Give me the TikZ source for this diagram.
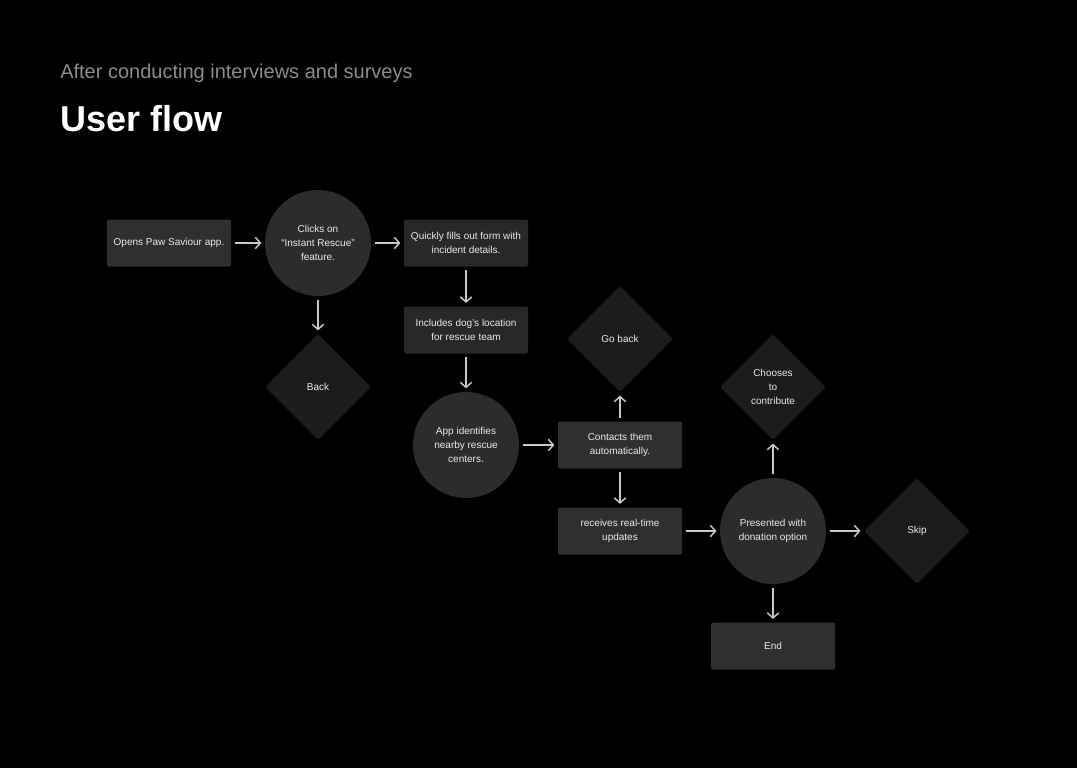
\documentclass[tikz,border=0pt]{standalone}
\usepackage{fontspec}
\setmainfont{Liberation Sans}
\usetikzlibrary{shapes.geometric,arrows.meta}
\definecolor{bg}{HTML}{000000}
\definecolor{boxfill}{HTML}{2F2F2F}
\definecolor{boxfillb}{HTML}{282828}
\definecolor{circfill}{HTML}{2C2C2C}
\definecolor{diafill}{HTML}{1C1C1C}
\definecolor{txt}{HTML}{EAEAEA}
\definecolor{subt}{HTML}{8C8C8C}
\definecolor{arr}{HTML}{C8C8C8}
\tikzset{
  px/.style={x=0.75pt,y=-0.75pt},
  lbl/.style={text=txt,font=\fontsize{7.5pt}{10.5pt}\selectfont,align=center},
  stepbox/.style={lbl,draw=none,fill=boxfill,rounded corners=1.5pt,minimum width=93pt,minimum height=35.25pt,inner sep=0pt},
  stepboxb/.style={stepbox,fill=boxfillb},
  stepcirc/.style={lbl,circle,fill=circfill,minimum size=79.5pt,inner sep=0pt},
  decision/.style={lbl,diamond,fill=diafill,minimum size=79.5pt,inner sep=0pt,aspect=1,rounded corners=1.5pt},
  flow/.style={draw=arr,line width=1.1pt,-{Straight Barb[length=3.8pt,width=8.5pt,line width=1.1pt]},shorten >=2.5pt,shorten <=2.5pt}
}
\begin{document}
\begin{tikzpicture}[px]
\useasboundingbox (0,0) rectangle (1077,768);
\fill[bg] (0,0) rectangle (1077,768);
\node[anchor=base west,inner sep=0pt,text=subt,font=\fontsize{15pt}{18pt}\selectfont] (sub) at (60,78) {After conducting interviews and surveys};
\node[anchor=base west,inner sep=0pt,text=white,font=\fontsize{27pt}{32pt}\selectfont\bfseries] (title) at (60,131) {User flow};

\node[stepbox] (open) at (169,243) {Opens Paw Saviour app.};
\node[stepcirc] (click) at (318,243) {Clicks on\\``Instant Rescue''\\feature.};
\node[stepboxb] (fill) at (466,243) {Quickly fills out form with\\incident details.};
\node[decision] (back) at (318,387) {Back};
\node[stepboxb] (loc) at (466,330) {Includes dog's location\\for rescue team};
\node[stepcirc] (ident) at (466,445) {App identifies\\nearby rescue\\centers.};
\node[stepbox] (contact) at (620,445) {Contacts them\\automatically.};
\node[decision] (goback) at (620,339) {Go back};
\node[stepbox] (upd) at (620,531) {receives real-time\\updates};
\node[stepcirc] (don) at (773,531) {Presented with\\donation option};
\node[decision] (contrib) at (773,387) {Chooses\\to\\contribute};
\node[decision] (skip) at (917,531) {Skip};
\node[stepbox] (end) at (773,646) {End};

\draw[flow] (open) -- (click);
\draw[flow] (click) -- (fill);
\draw[flow] (click) -- (back);
\draw[flow] (fill) -- (loc);
\draw[flow] (loc) -- (ident);
\draw[flow] (ident) -- (contact);
\draw[flow] (contact) -- (goback);
\draw[flow] (contact) -- (upd);
\draw[flow] (upd) -- (don);
\draw[flow] (don) -- (contrib);
\draw[flow] (don) -- (skip);
\draw[flow] (don) -- (end);
\end{tikzpicture}
\end{document}
